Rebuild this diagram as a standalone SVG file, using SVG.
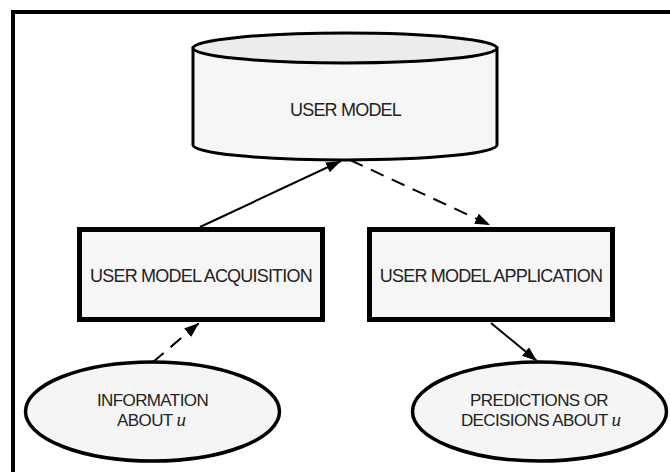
<svg xmlns="http://www.w3.org/2000/svg" width="670" height="472" viewBox="0 0 670 472">
  <defs>
    <style>
      .frame { fill: none; stroke: #000; stroke-width: 4; }
      .cyl { fill: #f6f6f6; stroke: #000; stroke-width: 3; }
      .cyltop { fill: #ececec; stroke: #000; stroke-width: 3; }
      .box { fill: #f6f6f6; stroke: #000; stroke-width: 5; }
      .ell { fill: #f5f5f5; stroke: #000; stroke-width: 3.5; }
      .lbl { font-family: "Liberation Sans", Arial, Helvetica, sans-serif; font-size: 18px; letter-spacing: -0.8px; fill: #222; text-anchor: middle; }
      .sm { font-size: 17px; letter-spacing: -0.6px; }
      .var { font-family: "Liberation Serif", "Times New Roman", serif; font-style: italic; font-size: 19px; letter-spacing: 0; }
      .conn { fill: none; stroke: #000; stroke-width: 2; }
      .dash { stroke-dasharray: 14 9; }
    </style>
    <marker id="arrow" markerUnits="userSpaceOnUse" markerWidth="16" markerHeight="12" refX="15" refY="5.5" orient="auto">
      <path d="M0,0 L15,5.5 L0,11 Z" fill="#000"/>
    </marker>
  </defs>

  <rect x="0" y="0" width="670" height="472" fill="#fff"/>
  <path class="frame" d="M13,472 V12 H670"/>

  <g id="user-model">
    <path class="cyl" d="M193,48 V145 A152,15 0 0 0 497,145 V48 Z"/>
    <ellipse class="cyltop" cx="345" cy="48" rx="152" ry="15"/>
    <text class="lbl" x="345.5" y="115.5">USER MODEL</text>
  </g>

  <g id="acquisition">
    <rect class="box" x="79.5" y="229.5" width="243" height="90"/>
    <text class="lbl" x="201" y="281.5">USER MODEL ACQUISITION</text>
  </g>

  <g id="application">
    <rect class="box" x="369.5" y="229.5" width="243" height="90"/>
    <text class="lbl" x="491" y="281.5">USER MODEL APPLICATION</text>
  </g>

  <g id="information">
    <ellipse class="ell" cx="152.5" cy="411.5" rx="127" ry="49.5"/>
    <text class="lbl sm" x="152.5" y="406">INFORMATION</text>
    <text class="lbl sm" x="151.5" y="426">ABOUT <tspan class="var">u</tspan></text>
  </g>

  <g id="predictions">
    <ellipse class="ell" cx="539.5" cy="411.5" rx="127" ry="49.5"/>
    <text class="lbl sm" x="539" y="406">PREDICTIONS OR</text>
    <text class="lbl sm" x="541" y="426">DECISIONS ABOUT <tspan class="var">u</tspan></text>
  </g>

  <g id="connectors">
    <line class="conn" x1="200" y1="227" x2="341" y2="161" marker-end="url(#arrow)"/>
    <line class="conn dash" x1="350" y1="160" x2="490" y2="225" marker-end="url(#arrow)"/>
    <line class="conn dash" x1="153" y1="362" x2="199" y2="323" marker-end="url(#arrow)"/>
    <line class="conn" x1="491" y1="323" x2="537" y2="361" marker-end="url(#arrow)"/>
  </g>
</svg>
